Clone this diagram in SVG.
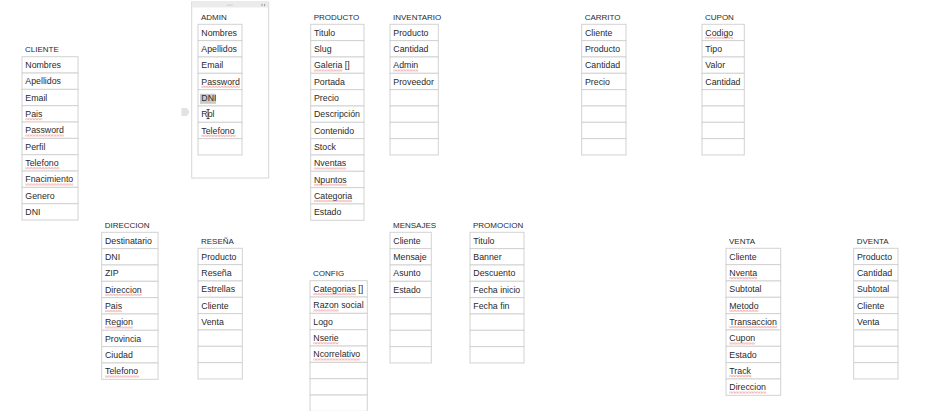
<svg xmlns="http://www.w3.org/2000/svg" width="927" height="411" viewBox="0 0 927 411">
<style>
.r{fill:#fff;stroke:#d2d2d2;stroke-width:1}
.t{font-family:"Liberation Sans",Arial,sans-serif;font-size:8.8px;fill:#2a2a2a}
.h{font-family:"Liberation Sans",Arial,sans-serif;font-size:8px;fill:#2a2a2a}
.sq{fill:url(#sq)}
</style>
<defs>
<pattern id="sq" width="3" height="2" patternUnits="userSpaceOnUse"><path d="M0,0.4 L1.5,1.6 L3,0.4" fill="none" stroke="#e0413a" stroke-width="0.6"/></pattern>
</defs>
<rect width="927" height="411" fill="#fff"/>
<g id="connectors"></g>

<g id="cliente" transform="translate(22,56.7)">
<text class="h" x="3" y="-4.8">CLIENTE</text>
<rect class="r" x="0" y="0" width="56" height="16.33"/>
<rect class="r" x="0" y="16.33" width="56" height="16.33"/>
<rect class="r" x="0" y="32.67" width="56" height="16.33"/>
<rect class="r" x="0" y="49" width="56" height="16.33"/>
<rect class="r" x="0" y="65.33" width="56" height="16.33"/>
<rect class="r" x="0" y="81.67" width="56" height="16.33"/>
<rect class="r" x="0" y="98" width="56" height="16.33"/>
<rect class="r" x="0" y="114.33" width="56" height="16.33"/>
<rect class="r" x="0" y="130.67" width="56" height="16.33"/>
<rect class="r" x="0" y="147" width="56" height="16.33"/>
<text class="t" x="3.3" y="11.3">Nombres</text>
<text class="t" x="3.3" y="27.6">Apellidos</text>
<text class="t" x="3.3" y="44">Email</text>
<text class="t" x="3.3" y="60.3">Pais</text>
<text class="t" x="3.3" y="76.6">Password</text>
<text class="t" x="3.3" y="93">Perfil</text>
<text class="t" x="3.3" y="109.3">Telefono</text>
<text class="t" x="3.3" y="125.6">Fnacimiento</text>
<text class="t" x="3.3" y="142">Genero</text>
<text class="t" x="3.3" y="158.3">DNI</text>
<rect class="sq" x="3.3" y="61.5" width="17" height="2"/>
<rect class="sq" x="3.3" y="77.8" width="38.6" height="2"/>
<rect class="sq" x="3.3" y="110.5" width="34.2" height="2"/>
<rect class="sq" x="3.3" y="126.8" width="47.9" height="2"/>
</g>

<g id="admin">
<rect x="191.7" y="2" width="77" height="176" fill="#fff" stroke="#d6d6d6" stroke-width="1"/>
<rect x="192.2" y="2.5" width="76" height="5" fill="#ebebeb"/>
<circle cx="227.5" cy="5" r="0.45" fill="#999"/>
<circle cx="229" cy="5" r="0.45" fill="#999"/>
<circle cx="230.5" cy="5" r="0.45" fill="#999"/>
<circle cx="232" cy="5" r="0.45" fill="#999"/>
<polygon points="262.5,3.5 262.5,6.5 261,5" fill="#999"/>
<polygon points="264,3.5 264,6.5 265.5,5" fill="#999"/>
<polygon points="181.5,108 187,108 189.5,112 187,116 181.5,116" fill="#e2e2e2"/>
<g transform="translate(198,24.3)">
<text class="h" x="3" y="-4.8">ADMIN</text>
<rect class="r" x="0" y="0" width="44" height="16.33"/>
<rect class="r" x="0" y="16.33" width="44" height="16.33"/>
<rect class="r" x="0" y="32.67" width="44" height="16.33"/>
<rect class="r" x="0" y="49" width="44" height="16.33"/>
<rect class="r" x="0" y="65.33" width="44" height="16.33"/>
<rect class="r" x="0" y="81.67" width="44" height="16.33"/>
<rect class="r" x="0" y="98" width="44" height="16.33"/>
<rect class="r" x="0" y="114.33" width="44" height="16.33"/>
<rect x="2" y="69.5" width="16" height="10" fill="#c9c9c9"/>
<text class="t" x="3.3" y="11.3">Nombres</text>
<text class="t" x="3.3" y="27.6">Apellidos</text>
<text class="t" x="3.3" y="44">Email</text>
<text class="t" x="3.3" y="60.3">Password</text>
<text class="t" x="3.3" y="76.6">DNI</text>
<text class="t" x="3.3" y="93">Rol</text>
<text class="t" x="3.3" y="109.3">Telefono</text>
<rect class="sq" x="3.3" y="61.5" width="38.6" height="2"/>
<rect class="sq" x="3.3" y="110.5" width="34.2" height="2"/>
<path d="M8.6,85.3 h3 M10.1,85.3 v9 M8.6,94.3 h3" fill="none" stroke="#111" stroke-width="0.8"/>
</g>
</g>

<g id="producto" transform="translate(310.7,24.3)">
<text class="h" x="3" y="-4.8">PRODUCTO</text>
<rect class="r" x="0" y="0" width="53.3" height="16.33"/>
<rect class="r" x="0" y="16.33" width="53.3" height="16.33"/>
<rect class="r" x="0" y="32.67" width="53.3" height="16.33"/>
<rect class="r" x="0" y="49" width="53.3" height="16.33"/>
<rect class="r" x="0" y="65.33" width="53.3" height="16.33"/>
<rect class="r" x="0" y="81.67" width="53.3" height="16.33"/>
<rect class="r" x="0" y="98" width="53.3" height="16.33"/>
<rect class="r" x="0" y="114.33" width="53.3" height="16.33"/>
<rect class="r" x="0" y="130.67" width="53.3" height="16.33"/>
<rect class="r" x="0" y="147" width="53.3" height="16.33"/>
<rect class="r" x="0" y="163.33" width="53.3" height="16.33"/>
<rect class="r" x="0" y="179.67" width="53.3" height="16.33"/>
<text class="t" x="3.3" y="11.3">Titulo</text>
<text class="t" x="3.3" y="27.6">Slug</text>
<text class="t" x="3.3" y="44">Galeria []</text>
<text class="t" x="3.3" y="60.3">Portada</text>
<text class="t" x="3.3" y="76.6">Precio</text>
<text class="t" x="3.3" y="93">Descripción</text>
<text class="t" x="3.3" y="109.3">Contenido</text>
<text class="t" x="3.3" y="125.6">Stock</text>
<text class="t" x="3.3" y="142">Nventas</text>
<text class="t" x="3.3" y="158.3">Npuntos</text>
<text class="t" x="3.3" y="174.6">Categoria</text>
<text class="t" x="3.3" y="191">Estado</text>
<rect class="sq" x="3.3" y="45.2" width="28.4" height="2"/>
<rect class="sq" x="3.3" y="143.2" width="32.3" height="2"/>
<rect class="sq" x="3.3" y="159.5" width="32.8" height="2"/>
<rect class="sq" x="3.3" y="175.8" width="38.1" height="2"/>
</g>

<g id="inventario" transform="translate(390,24.3)">
<text class="h" x="3" y="-4.8">INVENTARIO</text>
<rect class="r" x="0" y="0" width="48.3" height="16.33"/>
<rect class="r" x="0" y="16.33" width="48.3" height="16.33"/>
<rect class="r" x="0" y="32.67" width="48.3" height="16.33"/>
<rect class="r" x="0" y="49" width="48.3" height="16.33"/>
<rect class="r" x="0" y="65.33" width="48.3" height="16.33"/>
<rect class="r" x="0" y="81.67" width="48.3" height="16.33"/>
<rect class="r" x="0" y="98" width="48.3" height="16.33"/>
<rect class="r" x="0" y="114.33" width="48.3" height="16.33"/>
<text class="t" x="3.3" y="11.3">Producto</text>
<text class="t" x="3.3" y="27.6">Cantidad</text>
<text class="t" x="3.3" y="44">Admin</text>
<text class="t" x="3.3" y="60.3">Proveedor</text>
<rect class="sq" x="3.3" y="45.2" width="24.9" height="2"/>
</g>

<g id="carrito" transform="translate(581.7,24.3)">
<text class="h" x="3" y="-4.8">CARRITO</text>
<rect class="r" x="0" y="0" width="44.3" height="16.33"/>
<rect class="r" x="0" y="16.33" width="44.3" height="16.33"/>
<rect class="r" x="0" y="32.67" width="44.3" height="16.33"/>
<rect class="r" x="0" y="49" width="44.3" height="16.33"/>
<rect class="r" x="0" y="65.33" width="44.3" height="16.33"/>
<rect class="r" x="0" y="81.67" width="44.3" height="16.33"/>
<rect class="r" x="0" y="98" width="44.3" height="16.33"/>
<rect class="r" x="0" y="114.33" width="44.3" height="16.33"/>
<text class="t" x="3.3" y="11.3">Cliente</text>
<text class="t" x="3.3" y="27.6">Producto</text>
<text class="t" x="3.3" y="44">Cantidad</text>
<text class="t" x="3.3" y="60.3">Precio</text>
</g>

<g id="cupon" transform="translate(702,24.3)">
<text class="h" x="3" y="-4.8">CUPON</text>
<rect class="r" x="0" y="0" width="42.3" height="16.33"/>
<rect class="r" x="0" y="16.33" width="42.3" height="16.33"/>
<rect class="r" x="0" y="32.67" width="42.3" height="16.33"/>
<rect class="r" x="0" y="49" width="42.3" height="16.33"/>
<rect class="r" x="0" y="65.33" width="42.3" height="16.33"/>
<rect class="r" x="0" y="81.67" width="42.3" height="16.33"/>
<rect class="r" x="0" y="98" width="42.3" height="16.33"/>
<rect class="r" x="0" y="114.33" width="42.3" height="16.33"/>
<text class="t" x="3.3" y="11.3">Codigo</text>
<text class="t" x="3.3" y="27.6">Tipo</text>
<text class="t" x="3.3" y="44">Valor</text>
<text class="t" x="3.3" y="60.3">Cantidad</text>
<rect class="sq" x="3.3" y="12.5" width="27.9" height="2"/>
</g>

<g id="direccion" transform="translate(101.7,232.3)">
<text class="h" x="3" y="-4.8">DIRECCION</text>
<rect class="r" x="0" y="0" width="56.3" height="16.33"/>
<rect class="r" x="0" y="16.33" width="56.3" height="16.33"/>
<rect class="r" x="0" y="32.67" width="56.3" height="16.33"/>
<rect class="r" x="0" y="49" width="56.3" height="16.33"/>
<rect class="r" x="0" y="65.33" width="56.3" height="16.33"/>
<rect class="r" x="0" y="81.67" width="56.3" height="16.33"/>
<rect class="r" x="0" y="98" width="56.3" height="16.33"/>
<rect class="r" x="0" y="114.33" width="56.3" height="16.33"/>
<rect class="r" x="0" y="130.67" width="56.3" height="16.33"/>
<text class="t" x="3.3" y="11.3">Destinatario</text>
<text class="t" x="3.3" y="27.6">DNI</text>
<text class="t" x="3.3" y="44">ZIP</text>
<text class="t" x="3.3" y="60.3">Direccion</text>
<text class="t" x="3.3" y="76.6">Pais</text>
<text class="t" x="3.3" y="93">Region</text>
<text class="t" x="3.3" y="109.3">Provincia</text>
<text class="t" x="3.3" y="125.6">Ciudad</text>
<text class="t" x="3.3" y="142">Telefono</text>
<rect class="sq" x="3.3" y="61.5" width="36.7" height="2"/>
<rect class="sq" x="3.3" y="77.8" width="17" height="2"/>
<rect class="sq" x="3.3" y="94.2" width="27.9" height="2"/>
<rect class="sq" x="3.3" y="143.2" width="34.2" height="2"/>
</g>

<g id="resena" transform="translate(198,248.3)">
<text class="h" x="3" y="-4.8">RESEÑA</text>
<rect class="r" x="0" y="0" width="44.3" height="16.33"/>
<rect class="r" x="0" y="16.33" width="44.3" height="16.33"/>
<rect class="r" x="0" y="32.67" width="44.3" height="16.33"/>
<rect class="r" x="0" y="49" width="44.3" height="16.33"/>
<rect class="r" x="0" y="65.33" width="44.3" height="16.33"/>
<rect class="r" x="0" y="81.67" width="44.3" height="16.33"/>
<rect class="r" x="0" y="98" width="44.3" height="16.33"/>
<rect class="r" x="0" y="114.33" width="44.3" height="16.33"/>
<text class="t" x="3.3" y="11.3">Producto</text>
<text class="t" x="3.3" y="27.6">Reseña</text>
<text class="t" x="3.3" y="44">Estrellas</text>
<text class="t" x="3.3" y="60.3">Cliente</text>
<text class="t" x="3.3" y="76.6">Venta</text>
</g>

<g id="config" transform="translate(310,280.7)">
<text class="h" x="3" y="-4.8">CONFIG</text>
<rect class="r" x="0" y="0" width="57.3" height="16.33"/>
<rect class="r" x="0" y="16.33" width="57.3" height="16.33"/>
<rect class="r" x="0" y="32.67" width="57.3" height="16.33"/>
<rect class="r" x="0" y="49" width="57.3" height="16.33"/>
<rect class="r" x="0" y="65.33" width="57.3" height="16.33"/>
<rect class="r" x="0" y="81.67" width="57.3" height="16.33"/>
<rect class="r" x="0" y="98" width="57.3" height="16.33"/>
<rect class="r" x="0" y="114.33" width="57.3" height="16.33"/>
<text class="t" x="3.3" y="11.3">Categorias []</text>
<text class="t" x="3.3" y="27.6">Razon social</text>
<text class="t" x="3.3" y="44">Logo</text>
<text class="t" x="3.3" y="60.3">Nserie</text>
<text class="t" x="3.3" y="76.6">Ncorrelativo</text>
<rect class="sq" x="3.3" y="12.5" width="42.5" height="2"/>
<rect class="sq" x="3.3" y="28.8" width="25.4" height="2"/>
<rect class="sq" x="3.3" y="61.5" width="25.4" height="2"/>
<rect class="sq" x="3.3" y="77.8" width="46.9" height="2"/>
</g>

<g id="mensajes" transform="translate(390,232.3)">
<text class="h" x="3" y="-4.8">MENSAJES</text>
<rect class="r" x="0" y="0" width="41.3" height="16.33"/>
<rect class="r" x="0" y="16.33" width="41.3" height="16.33"/>
<rect class="r" x="0" y="32.67" width="41.3" height="16.33"/>
<rect class="r" x="0" y="49" width="41.3" height="16.33"/>
<rect class="r" x="0" y="65.33" width="41.3" height="16.33"/>
<rect class="r" x="0" y="81.67" width="41.3" height="16.33"/>
<rect class="r" x="0" y="98" width="41.3" height="16.33"/>
<rect class="r" x="0" y="114.33" width="41.3" height="16.33"/>
<text class="t" x="3.3" y="11.3">Cliente</text>
<text class="t" x="3.3" y="27.6">Mensaje</text>
<text class="t" x="3.3" y="44">Asunto</text>
<text class="t" x="3.3" y="60.3">Estado</text>
</g>

<g id="promocion" transform="translate(470,232.3)">
<text class="h" x="3" y="-4.8">PROMOCION</text>
<rect class="r" x="0" y="0" width="54" height="16.33"/>
<rect class="r" x="0" y="16.33" width="54" height="16.33"/>
<rect class="r" x="0" y="32.67" width="54" height="16.33"/>
<rect class="r" x="0" y="49" width="54" height="16.33"/>
<rect class="r" x="0" y="65.33" width="54" height="16.33"/>
<rect class="r" x="0" y="81.67" width="54" height="16.33"/>
<rect class="r" x="0" y="98" width="54" height="16.33"/>
<rect class="r" x="0" y="114.33" width="54" height="16.33"/>
<text class="t" x="3.3" y="11.3">Titulo</text>
<text class="t" x="3.3" y="27.6">Banner</text>
<text class="t" x="3.3" y="44">Descuento</text>
<text class="t" x="3.3" y="60.3">Fecha inicio</text>
<text class="t" x="3.3" y="76.6">Fecha fin</text>
</g>

<g id="venta" transform="translate(726,248.3)">
<text class="h" x="3" y="-4.8">VENTA</text>
<rect class="r" x="0" y="0" width="54.7" height="16.33"/>
<rect class="r" x="0" y="16.33" width="54.7" height="16.33"/>
<rect class="r" x="0" y="32.67" width="54.7" height="16.33"/>
<rect class="r" x="0" y="49" width="54.7" height="16.33"/>
<rect class="r" x="0" y="65.33" width="54.7" height="16.33"/>
<rect class="r" x="0" y="81.67" width="54.7" height="16.33"/>
<rect class="r" x="0" y="98" width="54.7" height="16.33"/>
<rect class="r" x="0" y="114.33" width="54.7" height="16.33"/>
<rect class="r" x="0" y="130.67" width="54.7" height="16.33"/>
<text class="t" x="3.3" y="11.3">Cliente</text>
<text class="t" x="3.3" y="27.6">Nventa</text>
<text class="t" x="3.3" y="44">Subtotal</text>
<text class="t" x="3.3" y="60.3">Metodo</text>
<text class="t" x="3.3" y="76.6">Transaccion</text>
<text class="t" x="3.3" y="93">Cupon</text>
<text class="t" x="3.3" y="109.3">Estado</text>
<text class="t" x="3.3" y="125.6">Track</text>
<text class="t" x="3.3" y="142">Direccion</text>
<rect class="sq" x="3.3" y="28.8" width="27.9" height="2"/>
<rect class="sq" x="3.3" y="61.5" width="29.3" height="2"/>
<rect class="sq" x="3.3" y="77.8" width="47.9" height="2"/>
<rect class="sq" x="3.3" y="94.2" width="25.9" height="2"/>
<rect class="sq" x="3.3" y="126.8" width="22" height="2"/>
<rect class="sq" x="3.3" y="143.2" width="36.7" height="2"/>
</g>

<g id="dventa" transform="translate(853.7,248.3)">
<text class="h" x="3" y="-4.8">DVENTA</text>
<rect class="r" x="0" y="0" width="44.3" height="16.33"/>
<rect class="r" x="0" y="16.33" width="44.3" height="16.33"/>
<rect class="r" x="0" y="32.67" width="44.3" height="16.33"/>
<rect class="r" x="0" y="49" width="44.3" height="16.33"/>
<rect class="r" x="0" y="65.33" width="44.3" height="16.33"/>
<rect class="r" x="0" y="81.67" width="44.3" height="16.33"/>
<rect class="r" x="0" y="98" width="44.3" height="16.33"/>
<rect class="r" x="0" y="114.33" width="44.3" height="16.33"/>
<text class="t" x="3.3" y="11.3">Producto</text>
<text class="t" x="3.3" y="27.6">Cantidad</text>
<text class="t" x="3.3" y="44">Subtotal</text>
<text class="t" x="3.3" y="60.3">Cliente</text>
<text class="t" x="3.3" y="76.6">Venta</text>
</g>
</svg>
